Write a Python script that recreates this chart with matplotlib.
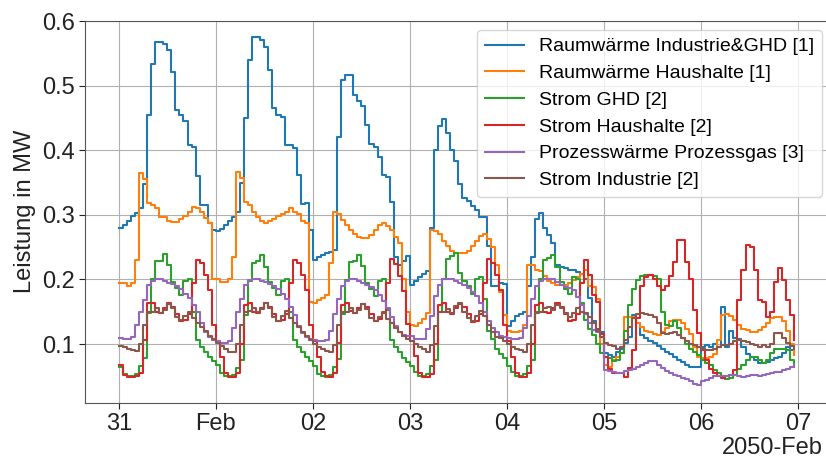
import matplotlib
matplotlib.use("Agg")
import matplotlib.pyplot as plt
import matplotlib.dates as mdates
import pandas as pd

plt.rcParams["font.family"] = ["Liberation Sans", "DejaVu Sans"]

# hourly time axis, 31 Jan 2050 00:00 .. 06 Feb 2050 23:00 (one row = one day)
start = "2050-01-31 00:00"
n_hours = 168

raumwaerme_ind_ghd = [
    0.280, 0.284, 0.291, 0.298, 0.303, 0.310, 0.348, 0.454, 0.534, 0.567, 0.567, 0.565, 0.555, 0.521, 0.462, 0.454, 0.446, 0.408, 0.405, 0.360, 0.315, 0.315, 0.287, 0.276,
    0.275, 0.278, 0.284, 0.291, 0.297, 0.304, 0.350, 0.450, 0.540, 0.575, 0.575, 0.570, 0.560, 0.524, 0.465, 0.455, 0.452, 0.408, 0.408, 0.403, 0.361, 0.317, 0.318, 0.277,
    0.230, 0.234, 0.238, 0.241, 0.243, 0.246, 0.420, 0.509, 0.517, 0.517, 0.486, 0.476, 0.469, 0.439, 0.410, 0.405, 0.390, 0.361, 0.358, 0.320, 0.235, 0.222, 0.228, 0.236,
    0.192, 0.197, 0.203, 0.208, 0.213, 0.280, 0.400, 0.437, 0.448, 0.427, 0.401, 0.383, 0.347, 0.326, 0.321, 0.314, 0.308, 0.296, 0.296, 0.252, 0.190, 0.190, 0.195, 0.193,
    0.128, 0.135, 0.143, 0.147, 0.150, 0.190, 0.235, 0.293, 0.303, 0.280, 0.268, 0.256, 0.222, 0.220, 0.217, 0.215, 0.215, 0.212, 0.209, 0.200, 0.171, 0.135, 0.124, 0.119,
    0.086, 0.083, 0.080, 0.088, 0.093, 0.101, 0.111, 0.145, 0.132, 0.114, 0.110, 0.104, 0.101, 0.097, 0.092, 0.088, 0.085, 0.080, 0.076, 0.072, 0.068, 0.065, 0.064, 0.064,
    0.096, 0.098, 0.096, 0.100, 0.096, 0.158, 0.096, 0.120, 0.109, 0.108, 0.095, 0.085, 0.080, 0.075, 0.070, 0.070, 0.072, 0.075, 0.078, 0.080, 0.086, 0.096, 0.091, 0.088,
]

raumwaerme_hh = [
    0.194, 0.194, 0.190, 0.194, 0.230, 0.365, 0.355, 0.318, 0.315, 0.310, 0.297, 0.297, 0.291, 0.289, 0.289, 0.293, 0.298, 0.305, 0.312, 0.310, 0.305, 0.295, 0.287, 0.200,
    0.200, 0.196, 0.196, 0.200, 0.235, 0.367, 0.357, 0.320, 0.315, 0.305, 0.297, 0.290, 0.287, 0.290, 0.293, 0.298, 0.301, 0.305, 0.310, 0.305, 0.301, 0.290, 0.287, 0.165,
    0.163, 0.168, 0.171, 0.176, 0.225, 0.305, 0.302, 0.292, 0.284, 0.276, 0.271, 0.266, 0.264, 0.264, 0.269, 0.276, 0.284, 0.287, 0.282, 0.276, 0.266, 0.257, 0.200, 0.150,
    0.130, 0.128, 0.133, 0.138, 0.148, 0.277, 0.275, 0.270, 0.260, 0.252, 0.244, 0.241, 0.241, 0.241, 0.244, 0.252, 0.260, 0.267, 0.270, 0.262, 0.250, 0.222, 0.180, 0.145,
    0.120, 0.118, 0.118, 0.120, 0.130, 0.223, 0.223, 0.215, 0.213, 0.205, 0.198, 0.194, 0.191, 0.191, 0.191, 0.194, 0.199, 0.204, 0.209, 0.215, 0.190, 0.189, 0.170, 0.100,
    0.068, 0.065, 0.075, 0.080, 0.086, 0.142, 0.142, 0.142, 0.133, 0.127, 0.120, 0.118, 0.116, 0.114, 0.118, 0.125, 0.135, 0.137, 0.137, 0.133, 0.124, 0.115, 0.095, 0.080,
    0.078, 0.078, 0.080, 0.085, 0.106, 0.145, 0.147, 0.143, 0.137, 0.129, 0.124, 0.122, 0.119, 0.119, 0.122, 0.127, 0.132, 0.140, 0.142, 0.142, 0.135, 0.120, 0.100, 0.083,
]

strom_ghd = [
    0.065, 0.053, 0.050, 0.050, 0.053, 0.066, 0.078, 0.148, 0.200, 0.228, 0.228, 0.240, 0.222, 0.196, 0.186, 0.176, 0.198, 0.200, 0.150, 0.106, 0.096, 0.088, 0.080, 0.073,
    0.068, 0.055, 0.050, 0.050, 0.052, 0.063, 0.076, 0.145, 0.198, 0.226, 0.228, 0.238, 0.220, 0.196, 0.186, 0.176, 0.198, 0.200, 0.150, 0.106, 0.096, 0.088, 0.080, 0.073,
    0.066, 0.054, 0.050, 0.049, 0.052, 0.064, 0.077, 0.146, 0.199, 0.227, 0.229, 0.238, 0.221, 0.195, 0.185, 0.175, 0.197, 0.201, 0.152, 0.106, 0.095, 0.087, 0.079, 0.072,
    0.066, 0.056, 0.050, 0.050, 0.053, 0.066, 0.076, 0.150, 0.200, 0.231, 0.236, 0.241, 0.210, 0.198, 0.190, 0.177, 0.200, 0.203, 0.169, 0.120, 0.107, 0.093, 0.085, 0.078,
    0.066, 0.056, 0.050, 0.050, 0.053, 0.066, 0.076, 0.150, 0.200, 0.230, 0.233, 0.238, 0.220, 0.196, 0.185, 0.178, 0.204, 0.200, 0.163, 0.137, 0.124, 0.114, 0.100, 0.086,
    0.080, 0.078, 0.073, 0.076, 0.086, 0.120, 0.160, 0.185, 0.199, 0.205, 0.207, 0.207, 0.205, 0.200, 0.150, 0.130, 0.128, 0.135, 0.125, 0.110, 0.100, 0.092, 0.088, 0.083,
    0.076, 0.070, 0.068, 0.060, 0.055, 0.050, 0.046, 0.047, 0.052, 0.062, 0.068, 0.075, 0.080, 0.080, 0.076, 0.070, 0.075, 0.086, 0.093, 0.093, 0.092, 0.090, 0.075, 0.065,
]

strom_hh = [
    0.068, 0.052, 0.049, 0.049, 0.050, 0.055, 0.106, 0.163, 0.163, 0.150, 0.148, 0.156, 0.163, 0.158, 0.147, 0.135, 0.137, 0.147, 0.194, 0.230, 0.225, 0.207, 0.183, 0.130,
    0.104, 0.080, 0.055, 0.049, 0.049, 0.055, 0.100, 0.160, 0.163, 0.150, 0.148, 0.156, 0.163, 0.158, 0.147, 0.135, 0.137, 0.147, 0.194, 0.230, 0.225, 0.207, 0.183, 0.130,
    0.104, 0.080, 0.056, 0.050, 0.049, 0.055, 0.101, 0.161, 0.164, 0.151, 0.148, 0.155, 0.162, 0.157, 0.146, 0.135, 0.138, 0.148, 0.195, 0.231, 0.224, 0.206, 0.182, 0.131,
    0.105, 0.081, 0.055, 0.049, 0.049, 0.054, 0.100, 0.160, 0.163, 0.150, 0.147, 0.155, 0.162, 0.157, 0.146, 0.134, 0.136, 0.147, 0.194, 0.231, 0.225, 0.207, 0.183, 0.130,
    0.104, 0.080, 0.055, 0.049, 0.049, 0.055, 0.100, 0.160, 0.163, 0.150, 0.148, 0.156, 0.163, 0.158, 0.147, 0.135, 0.137, 0.147, 0.194, 0.230, 0.207, 0.176, 0.165, 0.115,
    0.080, 0.062, 0.055, 0.055, 0.055, 0.049, 0.063, 0.090, 0.140, 0.190, 0.204, 0.207, 0.200, 0.190, 0.184, 0.190, 0.205, 0.227, 0.261, 0.261, 0.227, 0.200, 0.153, 0.117,
    0.090, 0.075, 0.062, 0.055, 0.050, 0.048, 0.050, 0.052, 0.060, 0.168, 0.215, 0.253, 0.250, 0.215, 0.168, 0.165, 0.142, 0.150, 0.196, 0.217, 0.199, 0.168, 0.145, 0.106,
]

prozessgas = [
    0.109, 0.107, 0.107, 0.111, 0.129, 0.150, 0.168, 0.191, 0.198, 0.200, 0.200, 0.198, 0.195, 0.193, 0.190, 0.185, 0.178, 0.171, 0.160, 0.150, 0.132, 0.119, 0.111, 0.106,
    0.104, 0.101, 0.101, 0.104, 0.125, 0.150, 0.170, 0.192, 0.199, 0.201, 0.200, 0.198, 0.196, 0.193, 0.190, 0.185, 0.178, 0.170, 0.158, 0.145, 0.128, 0.117, 0.111, 0.108,
    0.106, 0.105, 0.105, 0.106, 0.120, 0.147, 0.170, 0.190, 0.197, 0.200, 0.200, 0.198, 0.195, 0.192, 0.188, 0.183, 0.176, 0.167, 0.156, 0.142, 0.128, 0.118, 0.114, 0.112,
    0.112, 0.107, 0.107, 0.108, 0.123, 0.143, 0.174, 0.192, 0.200, 0.200, 0.200, 0.198, 0.195, 0.192, 0.187, 0.181, 0.174, 0.164, 0.149, 0.135, 0.125, 0.118, 0.112, 0.111,
    0.110, 0.108, 0.107, 0.110, 0.125, 0.143, 0.170, 0.190, 0.198, 0.200, 0.200, 0.200, 0.196, 0.191, 0.189, 0.186, 0.184, 0.173, 0.160, 0.147, 0.132, 0.122, 0.118, 0.111,
    0.060, 0.058, 0.056, 0.055, 0.055, 0.058, 0.060, 0.062, 0.065, 0.068, 0.070, 0.073, 0.073, 0.068, 0.063, 0.058, 0.055, 0.052, 0.050, 0.047, 0.046, 0.043, 0.038, 0.036,
    0.042, 0.045, 0.048, 0.050, 0.050, 0.050, 0.050, 0.052, 0.052, 0.050, 0.049, 0.050, 0.052, 0.052, 0.050, 0.052, 0.053, 0.055, 0.057, 0.057, 0.060, 0.062, 0.065, 0.068,
]

strom_ind = [
    0.097, 0.095, 0.093, 0.090, 0.089, 0.100, 0.130, 0.150, 0.150, 0.155, 0.148, 0.153, 0.162, 0.155, 0.142, 0.137, 0.143, 0.150, 0.140, 0.133, 0.127, 0.120, 0.113, 0.107,
    0.101, 0.097, 0.093, 0.088, 0.087, 0.100, 0.130, 0.150, 0.151, 0.156, 0.149, 0.154, 0.163, 0.155, 0.142, 0.136, 0.143, 0.151, 0.140, 0.132, 0.126, 0.119, 0.112, 0.106,
    0.100, 0.096, 0.092, 0.089, 0.087, 0.099, 0.129, 0.149, 0.150, 0.155, 0.148, 0.153, 0.162, 0.154, 0.141, 0.136, 0.142, 0.150, 0.139, 0.132, 0.125, 0.118, 0.112, 0.108,
    0.105, 0.100, 0.096, 0.092, 0.087, 0.098, 0.128, 0.149, 0.149, 0.154, 0.148, 0.159, 0.164, 0.150, 0.141, 0.136, 0.144, 0.151, 0.144, 0.130, 0.118, 0.111, 0.110, 0.105,
    0.100, 0.096, 0.093, 0.090, 0.088, 0.100, 0.130, 0.148, 0.150, 0.155, 0.158, 0.153, 0.160, 0.155, 0.148, 0.142, 0.148, 0.155, 0.150, 0.148, 0.142, 0.132, 0.120, 0.111,
    0.101, 0.099, 0.097, 0.093, 0.095, 0.106, 0.127, 0.140, 0.147, 0.148, 0.146, 0.145, 0.142, 0.132, 0.117, 0.115, 0.117, 0.119, 0.114, 0.110, 0.104, 0.100, 0.098, 0.096,
    0.092, 0.090, 0.091, 0.092, 0.096, 0.098, 0.098, 0.100, 0.104, 0.106, 0.105, 0.103, 0.100, 0.098, 0.096, 0.098, 0.096, 0.100, 0.117, 0.117, 0.110, 0.102, 0.097, 0.093,
]

labels = [
    "Raumwärme Industrie&GHD [1]",
    "Raumwärme Haushalte [1]",
    "Strom GHD [2]",
    "Strom Haushalte [2]",
    "Prozesswärme Prozessgas [3]",
    "Strom Industrie [2]",
]
colors = ["#1f77b4", "#ff7f0e", "#2ca02c", "#d62728", "#9467bd", "#8c564b"]

index = pd.date_range(start, periods=n_hours, freq="h")
series = [raumwaerme_ind_ghd, raumwaerme_hh, strom_ghd, strom_hh, prozessgas, strom_ind]

W, H = 826, 459
ax_left, ax_right, ax_top, ax_bottom = 85.0, 827.8, 20.7, 403.0
ax_w, ax_h = ax_right - ax_left, ax_bottom - ax_top

fig = plt.figure(figsize=(W / 100, H / 100), dpi=100)
ax = fig.add_axes([ax_left / W, 1 - ax_bottom / H, ax_w / W, ax_h / H])

for values, label, color in zip(series, labels, colors):
    ax.plot(index, values, drawstyle="steps-post", color=color, lw=1.5, label=label)

ax.margins(x=0.05)
ax.set_ylim(0.0087, 0.6005)

locator = mdates.DayLocator()
formatter = mdates.ConciseDateFormatter(locator)
ax.xaxis.set_major_locator(locator)
ax.xaxis.set_major_formatter(formatter)

ax.set_yticks([0.1, 0.2, 0.3, 0.4, 0.5, 0.6])
ax.set_yticklabels(["0.1", "0.2", "0.3", "0.4", "0.5", "0.6"])

ax.tick_params(axis="both", labelsize=17, colors="#222222", length=4)

# date offset drawn as figure text so it stays inside the canvas
ax.xaxis.get_offset_text().set_visible(False)
fig.canvas.draw()
offset_str = formatter.get_offset()
fig.text(823 / W, 0.0, offset_str, ha="right", va="bottom",
         fontsize=17, color="#222222")

ax.grid(True, color="#b0b0b0", lw=0.8)
for sp in ax.spines.values():
    sp.set_color("#555555")

ax.set_ylabel("Leistung in MW", fontsize=17, color="#222222")

ax.legend(loc="upper right", fontsize=14, frameon=True, framealpha=0.8,
          labelspacing=0.47, borderaxespad=0.0,
          bbox_to_anchor=((822 - ax_left) / ax_w, 1 - (30 - ax_top) / ax_h),
          handlelength=2.0)

fig.savefig("out.png", dpi=100)
